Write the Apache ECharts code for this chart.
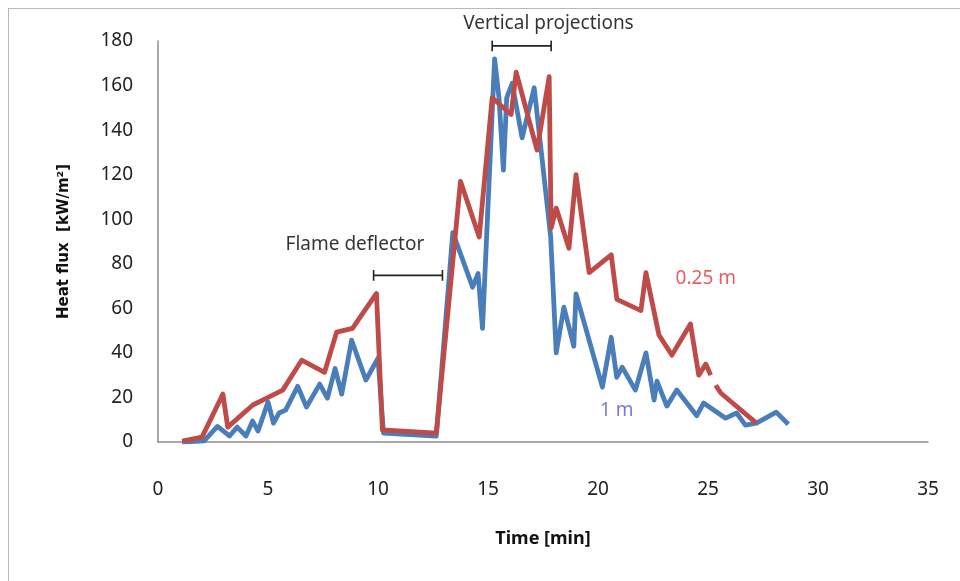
<!DOCTYPE html>
<html>
<head>
<meta charset="utf-8">
<script src="https://cdn.jsdelivr.net/npm/echarts@6/dist/echarts.min.js"></script>
<style>
  html, body { margin: 0; padding: 0; background: #fff; }
  #frame { position: absolute; left: 8px; top: 8px; width: 960px; height: 600px; border: 1.5px solid #b8b8b8; box-sizing: border-box; }
  #chart { width: 960px; height: 581px; }
</style>
</head>
<body>
<div id="frame"></div>
<div id="chart"></div>
<script>
// Heat flux at 1 m and 0.25 m versus time
const time1m = [1.1, 2.1, 2.7, 3.25, 3.6, 4.0, 4.3, 4.55, 5.0, 5.25, 5.5, 5.8, 6.35, 6.75, 7.35, 7.7, 8.05, 8.35, 8.8, 9.45, 10.0,
  10.25, 12.65, 13.4, 14.3, 14.55, 14.75, 15.3, 15.5, 15.7, 15.85, 16.1, 16.55, 17.1, 17.85, 18.1, 18.45, 18.9, 19.0,
  20.2, 20.6, 20.85, 21.1, 21.7, 22.18, 22.55, 22.68, 23.13, 23.58, 24.49, 24.8, 25.8, 26.3, 26.7, 27.2, 28.1, 28.65];
const flux1m = [0, 0.5, 7, 2.7, 6.7, 2.7, 9.4, 4.9, 18, 8.5, 13, 14.3, 25, 15.7, 26, 19.7, 33, 21.5, 45.7, 27.8, 37.6,
  4, 2.7, 94, 69.5, 75.6, 51, 172, 154.5, 122, 154.5, 161, 136.5, 159, 92, 40, 60.5, 43, 66.5,
  24.6, 47, 29, 33.6, 23.3, 40, 18.8, 27.3, 16.1, 23.3, 11.8, 17.5, 10.7, 13, 7.6, 8.5, 13.4, 8];

// null marks the break in the 0.25 m record
const time025m = [1.1, 2.0, 2.95, 3.17, 4.31, 4.94, 5.67, 6.53, 7.57, 8.12, 8.84, 9.93, 10.2, 12.65, 13.75, 14.6,
  15.19, 16.05, 16.28, 17.23, 17.78, 17.87, 18.1, 18.68, 19.0, 19.6, 20.6, 20.86, 21.95, 22.18, 22.77, 23.36,
  24.2, 24.58, 24.9, 25.12, 25.22, 25.35, 25.58, 27.2];
const flux025m = [0.4, 2.2, 21.5, 6.7, 16.6, 19.7, 23.3, 36.7, 31.3, 49.3, 51, 66.7, 5.4, 4, 117, 92,
  154.5, 147, 166, 131, 164, 96, 105, 87, 120, 76, 84, 64, 59, 76, 48, 39,
  53, 30, 35, 30, null, 25.5, 22, 8.5];

const xTicks = { min: 0, max: 35, step: 5 };
const yTicks = { min: 0, max: 180, step: 20 };

// Bracket annotations: [start time, end time, flux level]
const bracketProjections = [15.19, 17.87, 177.8];
const bracketDeflector = [9.8, 12.93, 74.8];
const capHalf = 2.4;

function bracketPath(b) {
  return [[b[0], b[2] + capHalf], [b[0], b[2] - capHalf], [b[0], b[2]], [b[1], b[2]],
          [b[1], b[2] + capHalf], [b[1], b[2] - capHalf]];
}

// Text annotations placed in data coordinates
const notes = [
  { text: 'Vertical projections', at: [17.75, 188.0], color: '#000' },
  { text: 'Flame deflector', at: [8.95, 88.5], color: '#000' },
  { text: '0.25 m', at: [24.9, 73.5], color: '#e0363c' },
  { text: '1 m', at: [20.85, 14.3], color: '#5a56d2' }
];

const pair = (xs, ys) => xs.map((x, i) => [x, ys[i] === null ? '-' : ys[i]]);

const chart = echarts.init(document.getElementById('chart'), null, { renderer: 'canvas' });
const font = 'Noto Sans';

chart.setOption({
  backgroundColor: 'transparent',
  animation: false,
  grid: { left: 158, right: 32, top: 41, bottom: 139, containLabel: false },
  xAxis: {
    type: 'value', min: xTicks.min, max: xTicks.max, interval: xTicks.step,
    name: 'Time [min]', nameLocation: 'middle', nameGap: 88,
    nameTextStyle: { fontFamily: font, fontWeight: 'bold', fontSize: 18, color: '#111' },
    axisLine: { show: true, lineStyle: { color: '#8c8c8c', width: 1.5 } },
    axisTick: { show: false },
    splitLine: { show: false },
    axisLabel: { margin: 38, fontFamily: font, fontSize: 19, color: '#222' }
  },
  yAxis: {
    type: 'value', min: yTicks.min, max: yTicks.max, interval: yTicks.step,
    name: 'Heat flux  [kW/m²]', nameLocation: 'middle', nameGap: 86, nameRotate: 90,
    nameTextStyle: { fontFamily: 'DejaVu Sans', fontWeight: 'bold', fontSize: 15, color: '#111' },
    axisLine: { show: true, lineStyle: { color: '#8c8c8c', width: 1.5 } },
    axisTick: { show: false },
    splitLine: { show: false },
    axisLabel: { margin: 25, fontFamily: font, fontSize: 19, color: '#222' }
  },
  series: [
    {
      name: '1 m', type: 'line', data: pair(time1m, flux1m), symbol: 'none',
      lineStyle: { color: '#4a7ebb', width: 4.8, join: 'round' }, z: 2
    },
    {
      name: '0.25 m', type: 'line', data: pair(time025m, flux025m), symbol: 'none', connectNulls: false,
      lineStyle: { color: '#be4b48', width: 4.8, join: 'round' }, z: 3
    },
    {
      type: 'line', data: bracketPath(bracketProjections), symbol: 'none',
      lineStyle: { color: '#222', width: 1.6 }, z: 4, silent: true
    },
    {
      type: 'line', data: bracketPath(bracketDeflector), symbol: 'none',
      lineStyle: { color: '#222', width: 1.6 }, z: 4, silent: true
    },
    {
      type: 'scatter', symbolSize: 0, silent: true, z: 5, clip: false,
      data: notes.map(n => ({
        value: n.at,
        label: { show: true, position: 'inside', formatter: n.text, color: n.color,
                 textBorderWidth: 0, fontFamily: font, fontSize: 19 }
      }))
    }
  ]
});
</script>
</body>
</html>
